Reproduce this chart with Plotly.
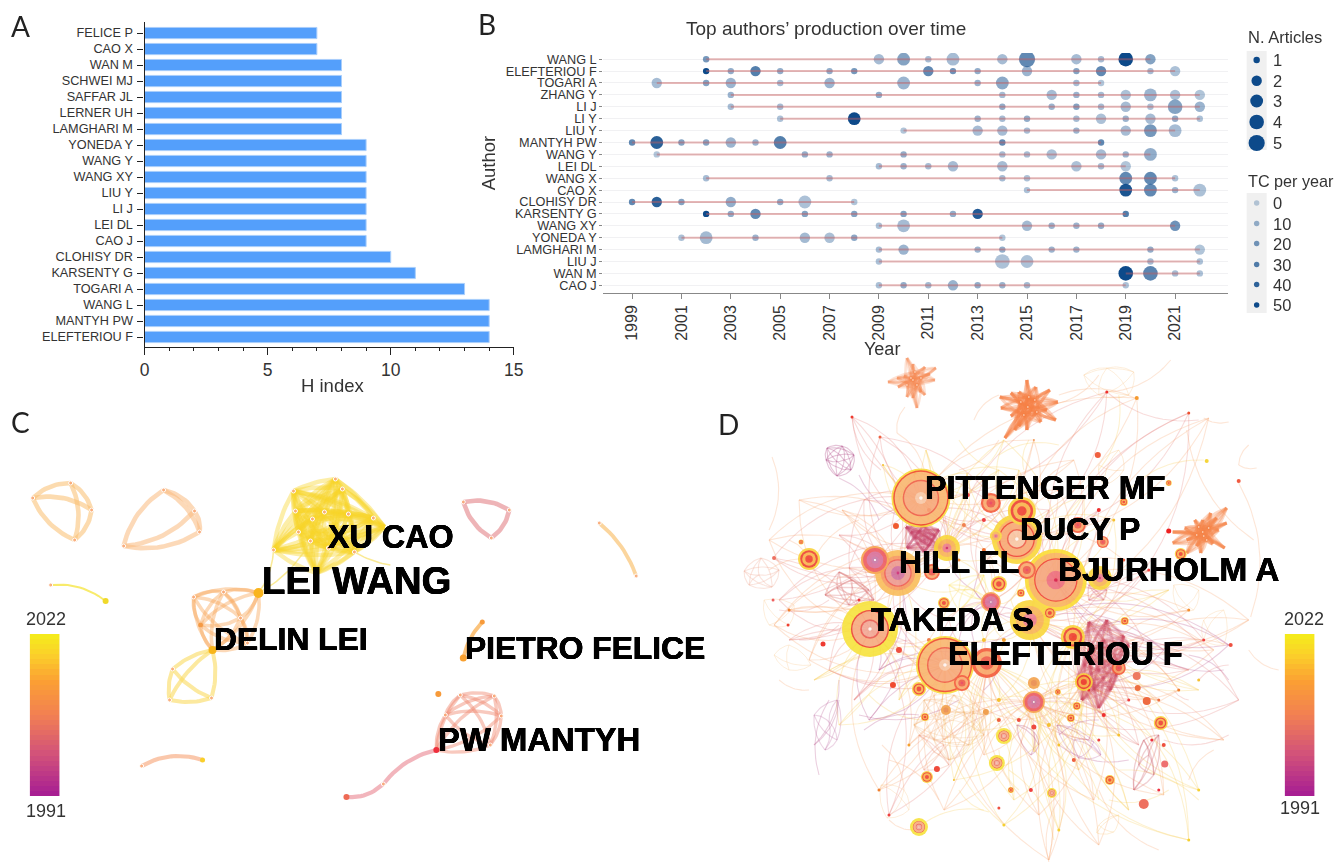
import plotly.graph_objects as go

W, H = 1343, 862
FONT = "Liberation Sans"
# the drawing area of the page as measured on the photograph
AREA_L, AREA_R = 5.3, 1334.4

# ---------- Panel A ----------
hindex_authors = ["ELEFTERIOU F","MANTYH PW","WANG L","TOGARI A","KARSENTY G","CLOHISY DR","CAO J","LEI DL","LI J","LIU Y",
                  "WANG XY","WANG Y","YONEDA Y","LAMGHARI M","LERNER UH","SAFFAR JL","SCHWEI MJ","WAN M","CAO X","FELICE P"]
hindex_values = [14,14,14,13,11,10,9,9,9,9,9,9,9,8,8,8,8,8,7,7]

# ---------- Panel B : (year, articles, TC per year) ----------
prod_authors = ["CAO J","WAN M","LIU J","LAMGHARI M","YONEDA Y","WANG XY","KARSENTY G","CLOHISY DR","CAO X","WANG X",
                "LEI DL","WANG Y","MANTYH PW","LIU Y","LI Y","LI J","ZHANG Y","TOGARI A","ELEFTERIOU F","WANG L"]
cao_j = [(2009,1,5),(2010,1,12),(2011,1,7),(2012,2,10),(2013,1,12),(2014,1,10),(2015,1,7),(2019,1,4)]
wan_m = [(2019,4,50),(2020,4,28),(2021,1,6),(2022,1,4)]
liu_j = [(2009,1,4),(2014,4,4),(2015,3,4),(2020,1,6),(2022,1,4)]
lamghari_m = [(2009,1,6),(2010,2,9),(2013,1,9),(2014,1,12),(2016,1,9),(2017,1,9),(2020,1,12),(2022,2,3)]
yoneda_y = [(2001,1,5),(2002,3,7),(2004,1,9),(2006,2,7),(2007,2,5),(2008,1,14),(2014,1,3)]
wang_xy = [(2009,1,4),(2010,3,6),(2015,2,7),(2016,1,9),(2017,1,9),(2018,1,12),(2021,2,22)]
karsenty_g = [(2002,1,50),(2003,1,12),(2004,2,26),(2006,1,16),(2008,1,16),(2010,1,16),(2012,1,12),(2013,2,44),(2019,1,30)]
clohisy_dr = [(1999,1,26),(2000,2,42),(2001,1,16),(2003,2,12),(2005,1,12),(2006,3,4),(2008,1,3)]
cao_x = [(2015,1,4),(2019,3,46),(2020,3,26),(2021,1,9),(2022,3,4)]
wang_x = [(2002,1,6),(2007,1,6),(2014,1,6),(2015,1,4),(2019,3,26),(2020,3,26),(2021,1,4)]
lei_dl = [(2009,1,6),(2010,1,9),(2011,1,6),(2012,2,6),(2014,2,6),(2017,2,4),(2018,1,6),(2019,2,3)]
wang_y = [(2000,1,3),(2006,1,12),(2007,1,9),(2010,1,12),(2014,1,6),(2015,1,6),(2016,2,4),(2018,2,6),(2019,1,9),(2020,3,12)]
mantyh_pw = [(1999,1,26),(2000,3,42),(2001,1,16),(2002,1,16),(2003,2,9),(2004,1,9),(2005,3,30),(2014,1,26),(2018,1,26)]
liu_y = [(2010,1,3),(2013,2,6),(2014,2,6),(2015,1,6),(2017,1,9),(2019,2,6),(2020,3,20),(2021,3,6)]
li_y = [(2005,1,4),(2008,3,50),(2013,1,9),(2014,1,6),(2015,1,12),(2017,1,6),(2018,2,4),(2019,1,9),(2020,2,6),(2021,1,12),(2022,1,4)]
li_j = [(2003,1,6),(2005,1,6),(2014,1,12),(2016,1,9),(2017,1,16),(2018,1,6),(2019,2,6),(2020,1,4),(2021,4,16),(2022,2,9)]
zhang_y = [(2003,1,9),(2009,1,12),(2014,1,6),(2016,2,6),(2017,1,9),(2018,1,6),(2019,2,4),(2020,3,9),(2021,2,4),(2022,2,3)]
togari_a = [(2000,2,6),(2002,1,16),(2003,2,9),(2005,1,6),(2007,2,9),(2010,3,9),(2013,1,9),(2014,3,14),(2017,1,6),(2018,1,3)]
elefteriou_f = [(2002,1,50),(2003,1,12),(2004,2,30),(2005,1,12),(2007,1,12),(2008,1,20),(2011,2,26),(2012,1,22),(2013,1,12),(2015,2,9),(2017,1,16),(2018,2,26),(2020,1,6),(2021,2,4)]
wang_l = [(2002,1,20),(2009,2,6),(2010,3,16),(2011,1,6),(2012,3,6),(2014,2,6),(2015,5,26),(2017,2,6),(2018,1,6),(2019,4,50),(2020,2,16)]
prod_rows = [cao_j,wan_m,liu_j,lamghari_m,yoneda_y,wang_xy,karsenty_g,clohisy_dr,cao_x,wang_x,lei_dl,wang_y,mantyh_pw,liu_y,li_y,li_j,zhang_y,togari_a,elefteriou_f,wang_l]
legend_articles = [1,2,3,4,5]
legend_tc = [0,10,20,30,40,50]
article_radius = {1:3.2,2:5.2,3:6.4,4:7.3,5:8.1}
year_ticks = list(range(1999,2022,2))

# ---------- Colour bars ----------
cbar_years = list(range(1991,2023))
cbar_scale = [[0,"#a81f92"],[0.25,"#d2527a"],[0.5,"#f28052"],[0.72,"#fba033"],[0.88,"#fbd02a"],[1,"#f5ea1c"]]

# ---------- Panel C network : nodes ----------
C_CLUSTERS = [
 ("rgba(250,190,110,.55)",4.6,0.20,[(33,498),(71,483),(92,510),(75,540)]),
 ("rgba(250,185,125,.55)",4.6,0.20,[(164,490),(195,511),(200,532),(124,546)]),
 ("rgba(247,212,40,.40)",4.4,0.10,[(336,479),(294,491),(343,489),(296,511),(325,512),(349,514),(313,519),(374,518),(385,527),(299,532),(311,541),(329,548),(355,552),(274,550),(317,573)]),
 ("rgba(248,165,85,.42)",3.6,0.18,[(194,597),(224,592),(201,625),(241,618),(259,593),(213,650),(248,643)]),
 ("rgba(250,218,95,.60)",4.0,0.14,[(213,650),(173,669),(170,700),(212,698)]),
 ("rgba(226,130,135,.60)",4.6,0.20,[(464,502),(510,510),(492,538)]),
 ("rgba(240,135,110,.45)",3.4,0.16,[(461,695),(495,696),(446,715),(502,716),(437,750),(491,745)]),
]
C_ARCS = [
 ("rgba(250,195,115,.70)",3.8,[(600,523),(637,576)],-0.14),
 ("rgba(246,230,70,.80)",2.0,[(51,585),(106,601)],-0.20),
 ("rgba(250,175,80,.75)",3.8,[(483,622),(464,658)],0.14),
 ("rgba(236,150,160,.70)",4.2,[(437,750),(384,784)],0.18),
 ("rgba(236,150,160,.70)",4.2,[(384,784),(347,797)],-0.22),
 ("rgba(248,175,135,.70)",4.2,[(142,766),(203,760)],-0.22),
 ("rgba(247,220,80,.60)",1.5,[(355,552),(391,565)],0.10),
 ("rgba(247,220,80,.60)",1.5,[(259,593),(274,550)],0.15),
 ("rgba(247,220,80,.60)",1.5,[(259,593),(311,541)],0.15),
]
C_DOTS_X = [33,71,92,75,164,195,200,124,336,294,343,296,325,349,313,374,299,311,329,355,274,194,224,201,241,248,173,170,212,464,510,492,600,637,51,384,142,461,495,446,502,491]
C_DOTS_Y = [498,483,510,540,490,511,532,546,479,491,489,511,512,514,519,518,532,541,548,552,550,597,592,625,618,643,669,700,698,502,510,538,523,576,585,784,766,695,696,715,716,745]
C_SOLID = [(259,593,10,"#f9b41e"),(213,650,8,"#f8b51a"),(106,601,6,"#f0d92a"),(483,622,5,"#f79a3a"),(464,658,7,"#f8a030"),(439,694,6,"#f79a3a"),(437,750,6,"#ee2f3c"),(347,797,6,"#ee6a55"),(203,760,5,"#f9cf2a"),(201,625,5,"#f59a45")]
C_LABELS = [("XU CAO",392,537,32.3),("LEI WANG",357,580,38.3),("DELIN LEI",292,639,31.8),("PIETRO FELICE",586,648,31.8),("PW MANTYH",540,739,32.8)]

# ---------- Panel D network : nodes ----------
D_STARS = [
 ("rgba(245,140,85,.24)",2.6,[(914,380),(918,385),(908,385),(916,372),(922,378),(912,378)],
  [(889,382),(898,378),(908,358),(914,364),(926,367),(937,368),(931,374),(936,380),(926,395),(922,392),(918,408),(914,398),(908,397),(899,387),(905,376)]),
 ("rgba(245,130,70,.34)",3.0,[(1029,407),(1022,402),(1036,400),(1025,415),(1038,412),(1030,397)],
  [(1028,380),(1020,392),(1012,393),(1001,397),(1002,408),(1012,416),(1016,430),(1006,438),(1020,426),(1028,430),(1042,422),(1057,420),(1048,410),(1059,402),(1051,390),(1037,387)]),
 ("rgba(245,135,75,.32)",3.0,[(1204,532),(1198,535),(1210,528),(1208,540),(1200,527),(1205,536)],
  [(1228,508),(1218,518),(1212,513),(1204,520),(1196,520),(1186,528),(1174,532),(1174,543),(1188,540),(1188,553),(1198,546),(1202,553),(1214,544),(1226,548),(1220,530),(1228,523)]),
]
D_WEBS = [
 ("rgba(175,70,135,.32)",1.1,0.2,[(827,460),(843,446),(855,455),(852,470),(838,476),(828,448),(845,460)]),
 ("rgba(240,170,150,.32)",1.1,0.2,[(745,571),(762,558),(780,570),(773,587),(750,585),(760,575)]),
 ("rgba(215,110,110,.30)",1.4,0.1,[(826,595),(840,572),(853,580),(870,590),(875,600),(850,605),(838,588)]),
 ("rgba(200,70,105,.30)",2.4,0.05,[(907,527),(925,525),(940,530),(942,548),(925,552),(908,548),(916,538),(933,540),(920,531),(930,546),(912,532),(936,535)]),
 ("rgba(205,75,95,.22)",2.6,0.06,[(1090,622),(1108,620),(1125,636),(1130,645),(1118,660),(1100,670),(1078,680),(1083,700),(1100,708),(1112,690),(1090,650),(1105,640),(1118,675),(1095,690),(1085,665)]),
 ("rgba(215,90,110,.28)",1.4,0.1,[(1090,585),(1108,590),(1105,600),(1090,600),(1095,592)]),
 ("rgba(240,175,105,.22)",1.1,0.2,[(925,700),(955,695),(985,715),(970,745),(935,740),(945,720),(965,712),(985,735),(950,760),(915,725)]),
 ("rgba(235,130,100,.24)",1.2,0.15,[(920,735),(945,745),(950,765),(925,770),(935,752)]),
 ("rgba(205,95,105,.30)",1.3,0.15,[(1145,740),(1160,735),(1155,775),(1135,790),(1140,765),(1150,755)]),
 ("rgba(180,90,150,.26)",1.1,0.2,[(815,715),(838,700),(838,740),(826,750),(830,722)]),
 ("rgba(180,90,150,.26)",1.1,0.2,[(1058,725),(1095,742),(1102,755),(1080,758),(1075,740)]),
 ("rgba(185,80,130,.30)",1.2,0.2,[(1018,725),(1035,732),(1032,755),(1040,745)]),
 ("rgba(248,190,120,.26)",1.0,0.2,[(1085,375),(1108,368),(1135,372),(1130,395),(1100,395)]),
 ("rgba(248,190,120,.30)",1.0,0.2,[(1100,465),(1120,450),(1125,470),(1105,485)]),
 ("rgba(248,190,120,.26)",1.0,0.2,[(1205,640),(1225,610),(1225,645),(1205,620)]),
 ("rgba(248,190,120,.26)",1.0,0.2,[(1175,585),(1200,590),(1195,610),(1180,610)]),
 ("rgba(248,190,120,.26)",1.0,0.2,[(775,655),(790,645),(812,665),(790,670)]),
 ("rgba(248,190,120,.26)",1.0,0.2,[(765,600),(795,605),(790,625),(770,625)]),
 ("rgba(248,190,120,.26)",1.0,0.2,[(882,785),(905,790),(910,810),(888,818)]),
 ("rgba(250,200,120,.30)",1.0,0.2,[(1100,825),(1120,815),(1115,832),(1098,833)]),
 ("rgba(250,225,90,.26)",1.4,0.15,[(950,585),(985,575),(985,600),(960,610),(965,590),(975,590)]),
]
D_HUBS = [(922,498,"o"),(946,665,"o"),(1057,580,"r"),(871,629,"y"),(899,573,"p"),(1018,539,"o"),(1031,620,"y"),(948,548,"y"),(988,663,"o"),(1074,637,"y"),(1035,702,"y"),(1085,682,"r"),(992,602,"p")]
D_SMALL = [
 (853,417,"r"),(881,437,"r"),(884,465,"y"),(916,473,"r"),(927,450,"y"),(968,473,"y"),(1020,470,"y"),(1075,460,"o"),(1108,392,"r"),(1138,398,"o"),(1190,413,"r"),(1210,418,"o"),(1035,440,"o"),(1005,440,"y"),
 (865,500,"r"),(843,510,"o"),(774,558,"r"),(800,500,"o"),(770,540,"o"),(780,600,"r"),(840,535,"r"),(850,568,"r"),(790,640,"r"),(775,625,"o"),(790,610,"o"),(810,660,"o"),(830,670,"r"),(815,680,"y"),(840,725,"y"),(855,700,"r"),(870,720,"p"),
 (930,510,"r"),(945,520,"r"),(965,525,"o"),(985,520,"r"),(965,495,"y"),(985,480,"r"),(1000,470,"y"),(1050,510,"r"),(1060,490,"o"),(1085,495,"y"),(1100,510,"r"),(1115,520,"y"),(960,560,"y"),(985,550,"o"),(975,590,"p"),(960,590,"y"),(950,620,"r"),(975,610,"p"),(1000,615,"r"),(1012,600,"y"),(1020,625,"o"),(1005,640,"y"),(985,640,"y"),(960,640,"p"),(930,640,"o"),(900,650,"o"),(880,670,"p"),(910,640,"r"),
 (1125,560,"o"),(1150,570,"r"),(1170,590,"y"),(1190,610,"o"),(1205,640,"r"),(1230,645,"p"),(1250,620,"o"),(1165,650,"p"),(1190,670,"r"),(1215,650,"o"),(1145,640,"r"),(1130,700,"r"),(1160,700,"o"),(1180,690,"o"),(1200,690,"y"),(1240,700,"r"),(1225,740,"o"),
 (900,700,"y"),(910,745,"o"),(945,740,"o"),(975,730,"y"),(1000,700,"y"),(1020,720,"o"),(1050,725,"y"),(1035,752,"y"),(1060,745,"y"),(1090,740,"r"),(1105,715,"r"),(1120,735,"y"),(1140,745,"r"),(985,755,"o"),(955,780,"y"),(945,810,"o"),(890,815,"r"),(880,790,"o"),(1015,800,"y"),(1005,825,"y"),(1040,815,"o"),(1060,830,"y"),(1080,770,"y"),(1095,800,"o"),(1130,810,"y"),(1165,795,"o"),(1200,790,"y"),(1190,840,"y"),(1100,845,"o"),(1050,860,"o"),
]
D_WISPS = [
 (1172,360,1108,392,"o"),(1108,392,1200,420,"r"),(1060,395,1140,400,"o"),(1205,418,1230,422,"o"),(1120,395,1100,470,"y"),(906,407,898,433,"o"),(898,433,926,473,"o"),
 (853,417,882,470,"r"),(773,457,770,530,"o"),(1188,430,1255,540,"o"),(1240,483,1252,617,"o"),(1240,465,1258,468,"o"),(1240,465,1250,445,"o"),(1205,460,1130,490,"y"),
 (1000,440,960,470,"o"),(960,440,1000,470,"y"),(1000,455,1060,445,"y"),(1030,440,1025,470,"y"),(975,420,1000,395,"o"),(1050,405,1100,375,"o"),
 (840,478,880,520,"p"),(860,475,910,520,"p"),(790,540,810,560,"o"),(815,560,770,570,"o"),(815,560,860,520,"o"),(780,610,830,600,"r"),(840,625,800,640,"r"),(780,680,810,690,"o"),
 (840,700,815,745,"p"),(815,745,840,680,"p"),(820,775,830,700,"p"),(860,715,960,700,"p"),(865,730,920,715,"p"),(985,690,1000,660,"p"),
 (1200,680,1230,665,"r"),(1150,650,1225,670,"p"),(1190,655,1230,680,"p"),(1175,690,1190,700,"r"),(1140,655,1230,645,"o"),(1250,650,1280,670,"o"),(1190,780,1215,750,"o"),(1165,740,1230,735,"r"),
 (1120,770,1200,800,"y"),(1100,790,1160,850,"o"),(1030,755,1050,860,"o"),(1060,800,1050,862,"o"),(1010,770,1055,840,"y"),(960,790,990,812,"y"),(920,827,985,810,"y"),(1000,750,1020,790,"y"),
 (890,760,940,800,"o"),(890,820,915,830,"o"),(883,745,905,790,"o"),(870,695,930,720,"y"),(1060,735,1100,720,"p"),(1060,745,1130,760,"p"),(1075,760,1100,800,"y"),(1110,800,1170,790,"y"),
]
# concentric rings: (x, y, radius, style)
D_NODES = [
 (922,498,29.5,"A"),(946,665,29,"A"),(1057,580,31,"B"),(871,629,28,"C"),(899,573,23,"D"),(1018,539,25,"E"),
 (1031,620,20,"F"),(948,548,13,"F"),(988,663,15,"G"),(876,560,14,"H"),(1023,511,14,"I"),(992,503,10,"G"),(1101,578,12,"F"),
 (810,559,11,"I"),(1074,637,12,"I"),(1079,525,8,"G"),(997,536,6,"F"),(1028,570,9,"G"),(933,572,8,"G"),(1000,584,8,"I"),(992,602,10,"H"),
 (945,603,6,"I"),(1051,613,6,"I"),(1022,593,4,"I"),(963,683,8,"G"),(920,689,7,"I"),(1085,682,9,"I"),(1035,702,11,"H"),(1035,683,6,"J"),
 (1120,668,7,"G"),(1162,723,7,"I"),(1005,736,8,"C"),(998,763,8,"C"),(928,777,6,"I"),(1111,780,5,"I"),(1053,793,5,"C"),(920,827,9,"C"),
 (1182,554,6,"I"),(1104,542,6,"G"),(1125,502,4,"I"),(1170,483,3,"I"),(1126,621,4,"I"),(1078,706,4,"I"),(1072,718,4,"I"),(1059,692,3,"I"),(926,717,4,"I"),
 (947,710,5,"J"),(1012,790,3,"I"),(802,542,2.5,"I"),
]
D_RING_STYLE = {
 "A":[(1,"#f9dc3a"),(.94,"#f0482c"),(.89,"#f9b66e"),(.62,"#ef5d45"),(.57,"#f7a878"),(.2,"#f8c8a6"),(.06,"#ffffff")],
 "B":[(1,"#fbdc34"),(.88,"#f9b35d"),(.70,"#ef3d30"),(.66,"#f5a47a"),(.30,"#ec6d7c"),(.06,"#d81f4c")],
 "C":[(1,"#f7e23c"),(.68,"#ec4030"),(.63,"#f6aa7e"),(.35,"#ea5a50"),(.29,"#f2a896"),(.06,"#ffffff")],
 "D":[(1,"#f9bd5a"),(.75,"#f7985f"),(.60,"#ef5a50"),(.54,"#ec9a90"),(.30,"#d0709f"),(.06,"#d03080")],
 "E":[(1,"#f9d63a"),(.82,"#f9ae60"),(.72,"#ee3f30"),(.67,"#f8a872"),(.40,"#ee5a45"),(.34,"#f8c6a4"),(.07,"#ffffff")],
 "F":[(1,"#f9d63a"),(.70,"#f8b455"),(.35,"#ec7f8e"),(.10,"#d03070")],
 "G":[(1,"#f35a3a"),(.78,"#f9a76a"),(.45,"#ee5a48"),(.15,"#e8405a")],
 "H":[(1,"#f7a24d"),(.85,"#ed5a60"),(.6,"#d8709a"),(.25,"#c878a5"),(.08,"#ffffff")],
 "I":[(1,"#f9d23a"),(.80,"#ee3f30"),(.62,"#f9b34a"),(.34,"#ef4030")],
 "J":[(1,"#f3a24d"),(.5,"#e98a4a")],
}
D_DOTS = [(1145,804,5,"#ee7060"),(1166,764,3.5,"#ee7070"),(938,769,3,"#ef4a3a"),(894,685,3,"#f04a30"),(897,526,3,"#f05a30"),(1099,455,3,"#f06040"),(1208,461,2,"#f5d53a"),(1240,481,2,"#f05a40"),(1170,531,2.5,"#ee2020"),(824,644,2.5,"#ee3a30"),(1032,790,2,"#ee4040"),(1138,676,4,"#ee7a60"),(1139,688,3,"#ee7040"),(1148,701,4,"#ee6a40"),(987,712,3,"#f0a050"),
 (853,417,1.5,"#ee3a30"),(881,437,1.5,"#ee6040"),(884,465,1,"#f5c030"),(916,473,1.5,"#f0c050"),(1108,392,1.5,"#ee3030"),(1138,398,2,"#f59a30"),(1190,413,1.5,"#ee5030"),(1035,440,1,"#f0a060"),(775,558,2,"#ee7060"),(774,600,1.5,"#ee6060"),(790,610,1.5,"#f08030"),(789,625,1.5,"#ee4030"),(860,600,1.5,"#ee4040"),(985,480,2,"#ee4030"),(969,495,2,"#ee4040"),(1060,490,1.5,"#ee6040"),(930,510,2,"#ee4040"),(965,525,2,"#f08050"),(985,520,2,"#ee4040"),(1100,510,2,"#ee3030"),(1115,520,1.5,"#f5c030"),(960,560,1.5,"#f09040"),(985,550,2,"#f07030"),(1005,640,2,"#f5a030"),(985,640,2,"#f5c030"),(930,640,2,"#f08050"),(900,650,3,"#ee5040"),(1125,560,1.5,"#f06040"),(1190,610,1.5,"#f59030"),(1205,640,1.5,"#ee4040"),(1232,645,2,"#ee5040"),(1150,570,1.5,"#ee4040"),(1000,700,2,"#f5c030"),(1020,720,2,"#ee5040"),(1050,725,2,"#f5c030"),(1000,720,2,"#ee6040"),(1100,740,1.5,"#ee4040"),(1105,715,2,"#ee3030"),(1120,735,1.5,"#f5c030"),(1060,745,1.5,"#f5c030"),(1035,727,2.5,"#ee4a40"),(1075,760,2,"#ee6040"),(890,815,1.5,"#ee4040"),(880,790,1.5,"#f08030"),(1090,690,1.5,"#ee3030"),(1160,700,1.5,"#ee7040"),(1180,690,1.5,"#f08030"),(1153,740,1.5,"#ee3040"),(1165,745,2,"#ee5040"),(1200,680,1.5,"#f5c030"),(1130,700,1.5,"#ee4040"),(1160,790,1.5,"#ee3040"),(1005,825,1.5,"#f5d030"),(910,745,1.5,"#f5a030"),(955,780,1,"#f5c030"),(1000,808,1.5,"#ee5040"),(1060,830,1.5,"#f5d030"),(1200,790,1.5,"#f5d030"),(1190,840,1.5,"#f5d030")]
D_LABELS = [("PITTENGER MF",1046,488,32.3),("DUCY P",1081,529,32),("HILL EL",960,562,32),("BJURHOLM A",1170,569,33.4),("TAKEDA S",954,619,32.6),("ELEFTERIOU F",1067,654,32.5)]
EDGE_COLOR = {"y":"rgba(250,208,100,.30)","o":"rgba(248,165,110,.28)","r":"rgba(228,120,115,.26)","p":"rgba(190,95,150,.30)"}

# ---------- helpers ----------
def px_x(v): return (v - AREA_L) / (AREA_R - AREA_L)
def px_y(v): return 1 - v / H

def curve(p, q, c, away=None):
    mx, my = (p[0] + q[0]) / 2, (p[1] + q[1]) / 2
    dx, dy = q[0] - p[0], q[1] - p[1]
    if away is not None:
        if (-dy) * (mx - away[0]) + dx * (my - away[1]) < 0:
            c = -abs(c)
        else:
            c = abs(c)
    cx, cy = mx - dy * c, my + dx * c
    xs, ys = [], []
    for i in range(15):
        t = i / 14
        xs.append((1-t)**2 * p[0] + 2*(1-t)*t*cx + t*t*q[0])
        ys.append((1-t)**2 * p[1] + 2*(1-t)*t*cy + t*t*q[1])
    return xs, ys

def centre(nodes):
    return (sum(n[0] for n in nodes) / len(nodes), sum(n[1] for n in nodes) / len(nodes))

def net_line(xs, ys, color, width):
    return go.Scatter(x=xs, y=ys, xaxis="x3", yaxis="y3", mode="lines", hoverinfo="skip",
                      line=dict(color=color, width=width, shape="linear"), showlegend=False)

def net_points(xs, ys, size, color, line=None):
    return go.Scatter(x=xs, y=ys, xaxis="x3", yaxis="y3", mode="markers", showlegend=False, hoverinfo="skip",
                      marker=dict(size=size, color=color, opacity=1, line=line or dict(width=0)))

fig = go.Figure()

# Panel A bars
fig.add_trace(go.Bar(x=hindex_values, y=hindex_authors, orientation="h", width=0.70, showlegend=False,
                     marker=dict(color="#549ffb", line=dict(color="#a9cefb", width=1)), xaxis="x", yaxis="y"))

# Panel B lines + points
for name, row in zip(prod_authors, prod_rows):
    yrs = [r[0] for r in row]
    fig.add_trace(go.Scatter(x=yrs, y=[name]*len(yrs), xaxis="x2", yaxis="y2", mode="markers", showlegend=False,
        marker=dict(size=[2*article_radius[r[1]] for r in row], color=[f"rgba(13,74,138,{0.28+0.72*r[2]/50:.2f})" for r in row], opacity=1, line=dict(width=0))))
    fig.add_trace(go.Scatter(x=[yrs[0], yrs[-1]], y=[name, name], xaxis="x2", yaxis="y2", mode="lines", showlegend=False,
        hoverinfo="skip", line=dict(color="rgba(200,95,95,.45)", width=2)))

# Panel C
for color, width, c, nodes in C_CLUSTERS:
    mid = centre(nodes)
    for i in range(len(nodes)):
        for j in range(i + 1, len(nodes)):
            xs, ys = curve(nodes[i], nodes[j], c, mid)
            fig.add_trace(net_line(xs, ys, color, width))
for color, width, pts, c in C_ARCS:
    xs, ys = curve(pts[0], pts[1], c)
    fig.add_trace(net_line(xs, ys, color, width))
fig.add_trace(net_points(C_DOTS_X, C_DOTS_Y, 4, "rgba(250,170,120,.9)", dict(color="#fff", width=1)))
fig.add_trace(net_points([d[0] for d in C_SOLID], [d[1] for d in C_SOLID], [d[2] for d in C_SOLID], [d[3] for d in C_SOLID]))

# Panel D - long pale edges
buckets = {}
for k, (x, y, col) in enumerate(D_SMALL):
    ranked = sorted(D_HUBS, key=lambda h: (h[0]-x)**2 + (h[1]-y)**2)
    for m, hub in enumerate(ranked[:4]):
        xs, ys = curve((x, y), hub[:2], 0.28 if (k + m) % 2 else -0.28)
        buckets.setdefault((col, (k + m) % 3), []).append((xs, ys))
for k, (x0, y0, x1, y1, col) in enumerate(D_WISPS):
    xs, ys = curve((x0, y0), (x1, y1), 0.22 if k % 2 else -0.22)
    buckets.setdefault((col, k % 3), []).append((xs, ys))
for (col, _), segs in buckets.items():
    xs, ys = [], []
    for a, b in segs:
        xs += a + [None]
        ys += b + [None]
    fig.add_trace(net_line(xs, ys, EDGE_COLOR[col], 1.1))

# Panel D - web clusters
for color, width, c, nodes in D_WEBS:
    mid = centre(nodes)
    for step in (0, 1):
        xs, ys = [], []
        for i in range(len(nodes)):
            for j in range(i + 1, len(nodes)):
                if (i + j) % 2 == step:
                    a, b = curve(nodes[i], nodes[j], c, mid)
                    xs += a + [None]
                    ys += b + [None]
        fig.add_trace(net_line(xs, ys, color, width))

# Panel D - star clusters: every inner node reaches every tip
for color, width, inner, tips in D_STARS:
    for k, hub in enumerate(inner):
        xs, ys = [], []
        for t, tip in enumerate(tips):
            a, b = curve(hub, tip, 0.12 if (k + t) % 2 else -0.12)
            xs += a + [None]
            ys += b + [None]
        fig.add_trace(net_line(xs, ys, color, width))
fig.add_trace(net_points([p[0] for s in D_STARS for p in s[2]], [p[1] for s in D_STARS for p in s[2]], 1.6, "rgba(255,240,225,.9)"))

# Panel D - small solid dots
fig.add_trace(net_points([d[0] for d in D_DOTS], [d[1] for d in D_DOTS], [2*d[2] for d in D_DOTS], [d[3] for d in D_DOTS]))

# Panel D - ringed nodes
rx, ry, rs, rc = [], [], [], []
for x, y, r, style in D_NODES:
    for frac, col in D_RING_STYLE[style]:
        rx.append(x); ry.append(y); rs.append(2 * r * frac); rc.append(col)
fig.add_trace(go.Scatter(x=rx, y=ry, xaxis="x3", yaxis="y3", mode="markers", showlegend=False, hoverinfo="skip", opacity=0.9,
    marker=dict(size=rs, color=rc, opacity=1, line=dict(width=0))))

# Legend marks for panel B
leg_y_art = [60, 80.7, 101, 122, 143]
fig.add_trace(net_points([1258]*5, leg_y_art, [2*article_radius[a] for a in legend_articles], "#0d4a8a"))
leg_y_tc = [203, 223.5, 243.5, 264.5, 284.5, 305]
fig.add_trace(net_points([1258]*6, leg_y_tc, 5.4, [f"rgba(13,74,138,{0.28+0.72*t/50:.2f})" for t in legend_tc]))

# Colour bars
fig.add_trace(go.Heatmap(z=[[v] for v in cbar_years], y=cbar_years, x=[0], xaxis="x4", yaxis="y4", colorscale=cbar_scale, showscale=False, hoverinfo="skip"))
fig.add_trace(go.Heatmap(z=[[v] for v in cbar_years], y=cbar_years, x=[0], xaxis="x5", yaxis="y5", colorscale=cbar_scale, showscale=False, hoverinfo="skip"))

# Annotations
ann = []
def text(s, x, y, size, color="#333333", family=FONT, angle=0, xanchor="center", shadow=None):
    f = dict(family=family, size=size, color=color)
    if shadow:
        f["shadow"] = shadow
    ann.append(dict(text=s, x=px_x(x), y=px_y(y), xref="paper", yref="paper", showarrow=False, xanchor=xanchor, yanchor="middle",
                    textangle=angle, font=f))
for s, x, y in [("A",21,26),("B",488,24),("C",21,422),("D",729,424)]:
    text(s, x, y, 28, "#222222", "Lato")
text("Top authors’ production over time", 827, 29, 19)
text("Author", 489, 163, 18.5, angle=-90)
text("Year", 883, 349, 18)
text("H index", 333, 386, 18.5)
text("N. Articles", 1247, 37, 16.5, xanchor="left")
text("TC per year", 1247, 181, 16.2, xanchor="left")
for a, yy in zip(legend_articles, leg_y_art):
    text(str(a), 1272, yy, 16.5, xanchor="left")
for t, yy in zip(legend_tc, leg_y_tc):
    text(str(t), 1272, yy, 16.5, xanchor="left")
for s, x, y in [("2022",46,619),("1991",46,811),("2022",1305,619),("1991",1301,808)]:
    text(s, x, y, 18)
for s, x, y, sz in C_LABELS + D_LABELS:
    text(f"<b>{s}</b>", x, y, sz, "#000000", shadow="0.35px 0 0 #000, -0.35px 0 0 #000, 0 0.35px 0 #000, 0 -0.35px 0 #000")

hidden = dict(visible=False, showgrid=False, zeroline=False, fixedrange=True)
fig.update_layout(
    width=W, height=H, margin=dict(l=0, r=0, t=0, b=0), autosize=False, plot_bgcolor="rgba(0,0,0,0)", paper_bgcolor="#ffffff",
    font=dict(family=FONT, color="#333333"), showlegend=False, annotations=ann, hovermode=False,
    xaxis=dict(domain=[px_x(145), px_x(514.5)], range=[0, 15], anchor="y", tickvals=[0,5,10,15], ticks="outside", ticklen=7, tickcolor="#222", tickwidth=1.2,
               minor=dict(dtick=1, ticks="outside", ticklen=3, tickcolor="#222", tickwidth=1), showline=True, linecolor="#222", linewidth=1.2, showgrid=False, zeroline=False,
               tickfont=dict(size=17.5, color="#333")),
    yaxis=dict(domain=[px_y(347), px_y(22)], range=[-0.625, 19.69], anchor="x", type="category", categoryorder="array", categoryarray=hindex_authors, dtick=1,
               ticks="outside", ticklen=6, tickcolor="#222", showline=True, linecolor="#222", linewidth=1.2, showgrid=False, zeroline=False, tickfont=dict(size=12.7, color="#333"), ticklabelstandoff=2),
    xaxis2=dict(domain=[px_x(604), px_x(1229)], range=[1997.83, 2023.13], anchor="y2", tickvals=year_ticks, ticktext=[str(v) for v in year_ticks], tickangle=-90,
                ticks="outside", ticklen=5, tickcolor="#888", showline=True, linecolor="#888", linewidth=1.2, showgrid=False, zeroline=False, tickfont=dict(size=16, color="#333")),
    yaxis2=dict(domain=[px_y(292.7), px_y(53)], range=[-0.62, 19.52], anchor="x2", type="category", categoryorder="array", categoryarray=prod_authors, dtick=1,
                ticks="outside", ticklen=3, tickcolor="#888", showline=False, showgrid=True, gridcolor="#f1f1f3", gridwidth=1, zeroline=False, tickfont=dict(size=12.7, color="#333")),
    xaxis3=dict(domain=[0, 1], range=[AREA_L, AREA_R], anchor="y3", **hidden),
    yaxis3=dict(domain=[0, 1], range=[H, 0], anchor="x3", **hidden),
    xaxis4=dict(domain=[px_x(30), px_x(60)], anchor="y4", **hidden),
    yaxis4=dict(domain=[px_y(796), px_y(634)], anchor="x4", **hidden),
    xaxis5=dict(domain=[px_x(1286), px_x(1316)], anchor="y5", **hidden),
    yaxis5=dict(domain=[px_y(796), px_y(634)], anchor="x5", **hidden),
    shapes=[dict(type="rect", xref="x3", yref="y3", x0=1248, x1=1268, y0=51, y1=150, fillcolor="#f0f0f0", line=dict(width=0), layer="below"),
            dict(type="rect", xref="x3", yref="y3", x0=1248, x1=1268, y0=193, y1=313, fillcolor="#f0f0f0", line=dict(width=0), layer="below")],
)
fig.write_html("out.html", post_script="document.body.style.margin='0';document.body.style.overflow='hidden';", config=dict(displayModeBar=False))
